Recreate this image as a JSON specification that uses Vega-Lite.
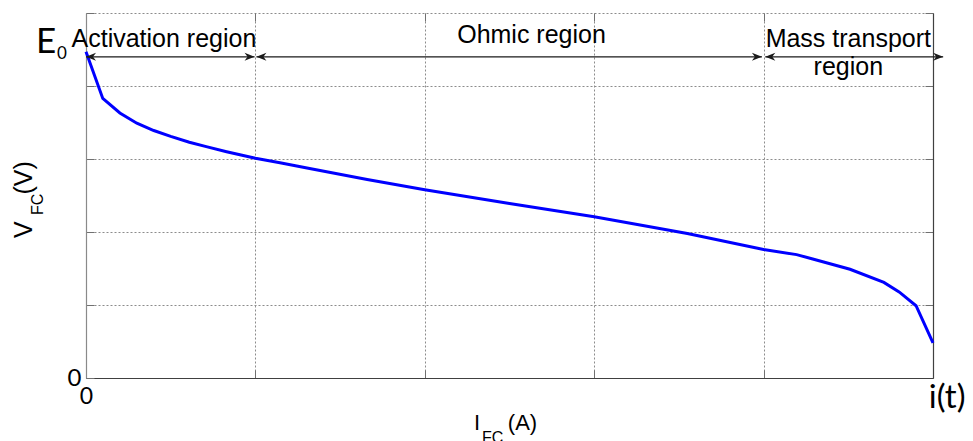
{
  "$schema": "https://vega.github.io/schema/vega-lite/v6.json",
  "width": 847,
  "height": 365,
  "autosize": {"type": "none"},
  "padding": {"left": 86, "top": 13, "right": 40, "bottom": 63},
  "background": "white",
  "config": {"view": {"stroke": null}},
  "datasets": {
    "curve": [
      {"current": 0.0, "voltage": 4.47},
      {"current": 0.099, "voltage": 3.83},
      {"current": 0.2, "voltage": 3.63},
      {"current": 0.3, "voltage": 3.49},
      {"current": 0.4, "voltage": 3.39},
      {"current": 0.5, "voltage": 3.31},
      {"current": 0.61, "voltage": 3.23},
      {"current": 0.71, "voltage": 3.17},
      {"current": 0.83, "voltage": 3.1},
      {"current": 1.0, "voltage": 3.01},
      {"current": 1.145, "voltage": 2.95},
      {"current": 1.32, "voltage": 2.87},
      {"current": 1.66, "voltage": 2.72},
      {"current": 2.0, "voltage": 2.58},
      {"current": 2.5, "voltage": 2.39},
      {"current": 3.0, "voltage": 2.21},
      {"current": 3.55, "voltage": 1.98},
      {"current": 4.0, "voltage": 1.76},
      {"current": 4.195, "voltage": 1.69},
      {"current": 4.29, "voltage": 1.63},
      {"current": 4.51, "voltage": 1.49},
      {"current": 4.71, "voltage": 1.31},
      {"current": 4.8, "voltage": 1.18},
      {"current": 4.9, "voltage": 0.99},
      {"current": 5.0, "voltage": 0.48}
    ],
    "segments": [
      {"start": 0.0, "end": 0.995},
      {"start": 1.006, "end": 3.99},
      {"start": 4.01, "end": 5.06}
    ],
    "regions": [
      {"label": "Activation region", "x": 0.46, "y": 4.53},
      {"label": "Ohmic region", "x": 2.63, "y": 4.59},
      {"label": "Mass transport", "x": 4.5, "y": 4.53},
      {"label": "region", "x": 4.5, "y": 4.15}
    ],
    "bigE": [{"label": "E", "x": -0.295, "y": 4.45}],
    "subE": [{"label": "0", "x": -0.171, "y": 4.37}],
    "itLabel": [{"label": "i(t)", "x": 4.975, "y": -0.41}],
    "xTitle": [
      {"label": "I", "x": 2.29, "y": -0.712},
      {"label": "(A)", "x": 2.49, "y": -0.712}
    ],
    "xTitleSub": [{"label": "FC", "x": 2.338, "y": -0.897}],
    "yTitle": [
      {"label": "V", "x": -0.319, "y": 1.918},
      {"label": "(V)", "x": -0.319, "y": 2.514}
    ],
    "yTitleSub": [{"label": "FC", "x": -0.254, "y": 2.233}]
  },
  "resolve": {"axis": {"x": "independent", "y": "independent"}},
  "layer": [
    {
      "data": {"name": "curve"},
      "mark": {"type": "line", "color": "#0000ff", "strokeWidth": 3},
      "encoding": {
        "x": {
          "field": "current", "type": "quantitative",
          "scale": {"domain": [0, 5], "nice": false, "zero": false},
          "axis": {
            "values": [0, 1, 2, 3, 4, 5],
            "grid": true, "gridColor": "#8c8c8c", "gridDash": [2, 2], "gridWidth": 1,
            "domain": true, "domainColor": "#404040", "domainWidth": 1.2,
            "ticks": true, "tickSize": -8, "tickColor": "#707070",
            "labelExpr": "datum.value == 0 ? '0' : ''",
            "labelFlush": false,
            "labelFont": "Lato", "labelFontSize": 23, "labelColor": "#000",
            "labelPadding": 15, "title": null
          }
        },
        "y": {
          "field": "voltage", "type": "quantitative",
          "scale": {"domain": [0, 5], "nice": false, "zero": false},
          "axis": {
            "values": [0, 1, 2, 3, 4, 5],
            "grid": true, "gridColor": "#8c8c8c", "gridDash": [2, 2], "gridWidth": 1,
            "domain": true, "domainColor": "#8a8a8a", "domainWidth": 1.2,
            "ticks": true, "tickSize": -8, "tickColor": "#707070",
            "labelExpr": "datum.value == 0 ? '0' : ''",
            "labelFlush": false,
            "labelFont": "Lato", "labelFontSize": 24, "labelColor": "#000",
            "labelPadding": 13, "labelBaseline": "middle", "title": null
          }
        }
      }
    },
    {
      "data": {"name": "segments"},
      "mark": {"type": "rule", "color": "#1a1a1a", "strokeWidth": 1.2},
      "encoding": {
        "x": {
          "field": "start", "type": "quantitative",
          "scale": {"domain": [0, 5], "nice": false, "zero": false},
          "axis": {
            "orient": "top", "values": [1, 2, 3, 4],
            "grid": false, "domain": false, "labels": false,
            "ticks": true, "tickSize": -8, "tickColor": "#707070", "title": null
          }
        },
        "x2": {"field": "end"},
        "y": {
          "datum": 4.4, "type": "quantitative",
          "scale": {"domain": [0, 5], "nice": false, "zero": false},
          "axis": {
            "orient": "right", "values": [1, 2, 3, 4, 5],
            "grid": false, "domain": true, "domainColor": "#404040", "domainWidth": 1.2,
            "labels": false,
            "ticks": true, "tickSize": -8, "tickColor": "#707070", "title": null
          }
        }
      }
    },
    {
      "data": {"name": "segments"},
      "transform": [{"fold": ["start", "end"], "as": ["side", "pos"]}],
      "mark": {"type": "point", "filled": true, "size": 100, "color": "#1a1a1a", "opacity": 1, "strokeWidth": 0},
      "encoding": {
        "x": {"field": "pos", "type": "quantitative", "scale": {"domain": [0, 5], "nice": false, "zero": false}, "axis": null},
        "y": {"datum": 4.4, "type": "quantitative", "scale": {"domain": [0, 5], "nice": false, "zero": false}, "axis": null},
        "shape": {
          "field": "side", "type": "nominal",
          "scale": {"domain": ["start", "end"], "range": ["M0,0L2,-0.8L1.4,0L2,0.8Z", "M0,0L-2,-0.8L-1.4,0L-2,0.8Z"]},
          "legend": null
        }
      }
    },
    {
      "data": {"name": "regions"},
      "mark": {"type": "text", "font": "Liberation Sans", "fontSize": 25, "color": "#000", "align": "center", "baseline": "alphabetic"},
      "encoding": {
        "x": {"field": "x", "type": "quantitative", "scale": {"domain": [0, 5], "nice": false, "zero": false}, "axis": null},
        "y": {"field": "y", "type": "quantitative", "scale": {"domain": [0, 5], "nice": false, "zero": false}, "axis": null},
        "text": {"field": "label"}
      }
    },
    {
      "data": {"name": "bigE"},
      "mark": {"type": "text", "font": "Lato", "fontSize": 35, "color": "#000", "align": "left", "baseline": "alphabetic"},
      "encoding": {
        "x": {"field": "x", "type": "quantitative", "scale": {"domain": [0, 5], "nice": false, "zero": false}, "axis": null},
        "y": {"field": "y", "type": "quantitative", "scale": {"domain": [0, 5], "nice": false, "zero": false}, "axis": null},
        "text": {"field": "label"}
      }
    },
    {
      "data": {"name": "subE"},
      "mark": {"type": "text", "font": "Lato", "fontSize": 17, "color": "#000", "align": "left", "baseline": "alphabetic"},
      "encoding": {
        "x": {"field": "x", "type": "quantitative", "scale": {"domain": [0, 5], "nice": false, "zero": false}, "axis": null},
        "y": {"field": "y", "type": "quantitative", "scale": {"domain": [0, 5], "nice": false, "zero": false}, "axis": null},
        "text": {"field": "label"}
      }
    },
    {
      "data": {"name": "itLabel"},
      "mark": {"type": "text", "font": "Lato", "fontSize": 33, "color": "#000", "align": "left", "baseline": "alphabetic"},
      "encoding": {
        "x": {"field": "x", "type": "quantitative", "scale": {"domain": [0, 5], "nice": false, "zero": false}, "axis": null},
        "y": {"field": "y", "type": "quantitative", "scale": {"domain": [0, 5], "nice": false, "zero": false}, "axis": null},
        "text": {"field": "label"}
      }
    },
    {
      "data": {"name": "xTitle"},
      "mark": {"type": "text", "font": "Liberation Sans", "fontSize": 22, "color": "#000", "align": "left", "baseline": "alphabetic"},
      "encoding": {
        "x": {"field": "x", "type": "quantitative", "scale": {"domain": [0, 5], "nice": false, "zero": false}, "axis": null},
        "y": {"field": "y", "type": "quantitative", "scale": {"domain": [0, 5], "nice": false, "zero": false}, "axis": null},
        "text": {"field": "label"}
      }
    },
    {
      "data": {"name": "xTitleSub"},
      "mark": {"type": "text", "font": "Liberation Sans", "fontSize": 16, "color": "#000", "align": "left", "baseline": "alphabetic"},
      "encoding": {
        "x": {"field": "x", "type": "quantitative", "scale": {"domain": [0, 5], "nice": false, "zero": false}, "axis": null},
        "y": {"field": "y", "type": "quantitative", "scale": {"domain": [0, 5], "nice": false, "zero": false}, "axis": null},
        "text": {"field": "label"}
      }
    },
    {
      "data": {"name": "yTitle"},
      "mark": {"type": "text", "font": "Liberation Sans", "fontSize": 25, "color": "#000", "align": "left", "baseline": "alphabetic", "angle": 270},
      "encoding": {
        "x": {"field": "x", "type": "quantitative", "scale": {"domain": [0, 5], "nice": false, "zero": false}, "axis": null},
        "y": {"field": "y", "type": "quantitative", "scale": {"domain": [0, 5], "nice": false, "zero": false}, "axis": null},
        "text": {"field": "label"}
      }
    },
    {
      "data": {"name": "yTitleSub"},
      "mark": {"type": "text", "font": "Liberation Sans", "fontSize": 16, "color": "#000", "align": "left", "baseline": "alphabetic", "angle": 270},
      "encoding": {
        "x": {"field": "x", "type": "quantitative", "scale": {"domain": [0, 5], "nice": false, "zero": false}, "axis": null},
        "y": {"field": "y", "type": "quantitative", "scale": {"domain": [0, 5], "nice": false, "zero": false}, "axis": null},
        "text": {"field": "label"}
      }
    }
  ]
}
